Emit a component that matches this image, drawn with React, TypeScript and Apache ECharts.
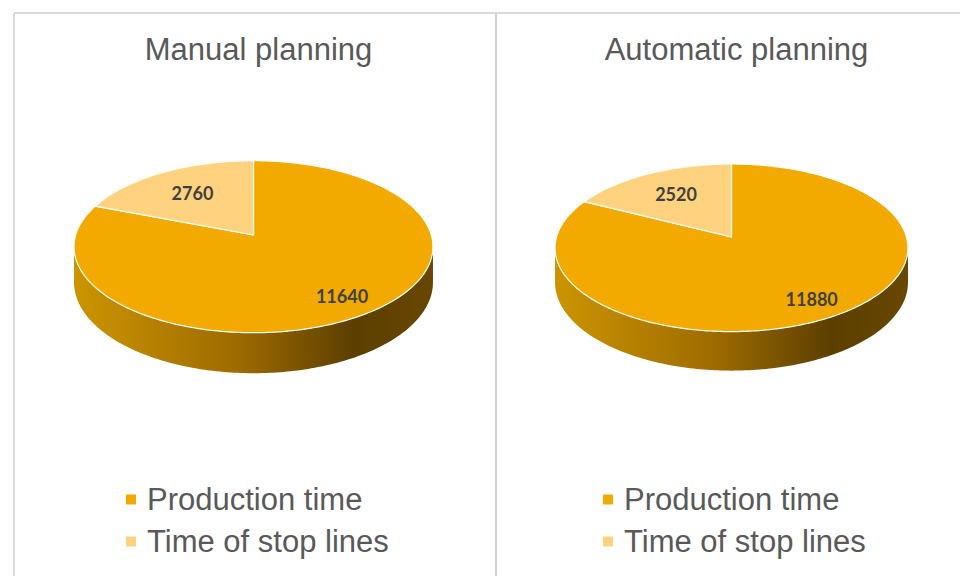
import React, { useEffect, useRef } from "react";
import * as echarts from "echarts";

// ---- data ----
const categories = ["Production time", "Time of stop lines"];
const pieTitles = ["Manual planning", "Automatic planning"];
const productionTime = [11640, 11880];
const stopTime = [2760, 2520];
const seriesValues = [productionTime, stopTime];

// ---- styling / layout ----
const topColors = ["#F2A900", "#FFD280"];
const sideStops = [
  [
    { offset: 0, color: "#CC9400" },
    { offset: 0.45, color: "#9E6C00" },
    { offset: 0.78, color: "#5C3F00" },
    { offset: 1, color: "#684700" },
  ],
  [
    { offset: 0, color: "#D9A84E" },
    { offset: 0.45, color: "#B8893A" },
    { offset: 0.8, color: "#8A6424" },
    { offset: 1, color: "#94702C" },
  ],
];
const labelRadius = [0.8, 0.65];

const pies = [
  { xc: 253.5, yc: 235, B: 177.8, A: 84.4, b: 0.136, H: 35, titleX: 253.5, legendX: 126 },
  { xc: 731.5, yc: 237, B: 175, A: 82.4, b: 0.129, H: 34, titleX: 731.5, legendX: 603 },
];

type Pie = (typeof pies)[number];

function proj(p: Pie, deg: number, f: number, depth: number): number[] {
  const a = (deg * Math.PI) / 180;
  const u = f * Math.sin(a);
  const v = -f * Math.cos(a);
  const k = 1 / (1 - p.b * v);
  return [p.xc + p.B * u * k, p.yc + p.A * v * k + depth * k];
}

function rim(p: Pie, from: number, to: number, depth: number): number[][] {
  const n = Math.max(2, Math.ceil(Math.abs(to - from)));
  const pts: number[][] = [];
  for (let j = 0; j <= n; j++) {
    pts.push(proj(p, from + ((to - from) * j) / n, 1, depth));
  }
  return pts;
}

function makeRenderItem(c: number) {
  return (params: any, api: any) => {
    const i = params.dataIndex;
    const p = pies[i];
    const value = api.value(0);
    let start = 0;
    let total = 0;
    seriesValues.forEach((arr, k) => {
      total += arr[i];
      if (k < c) start += arr[i];
    });
    const a0 = (start / total) * 360;
    const a1 = ((start + value) / total) * 360;
    const children: any[] = [];
    const fDeg = (Math.acos(-p.b) * 180) / Math.PI;
    const s = Math.max(a0, fDeg);
    const e = Math.min(a1, 360 - fDeg);
    if (e > s) {
      const pts = rim(p, s, e, 0).concat(rim(p, e, s, p.H));
      const xL = p.xc - p.B * 1.01;
      const xR = p.xc + p.B * 1.01;
      children.push({
        type: "polygon",
        shape: { points: pts },
        style: {
          fill: new echarts.graphic.LinearGradient(xL, 0, xR, 0, sideStops[c], true),
          stroke: null,
        },
      });
    }
    const top = [[p.xc, p.yc]].concat(rim(p, a0, a1, 0));
    children.push({
      type: "polygon",
      shape: { points: top },
      style: { fill: topColors[c], stroke: "#FFFFFF", lineWidth: 1.2, lineJoin: "round" },
    });
    const mid = (a0 + a1) / 2;
    const lp = proj(p, mid, labelRadius[c], 0);
    children.push({
      type: "text",
      style: {
        text: String(value),
        x: lp[0],
        y: lp[1],
        align: "center",
        verticalAlign: "middle",
        fill: "#404040",
        fontFamily: "Lato",
        fontWeight: "bold",
        fontSize: 18,
      },
    });
    return { type: "group", children };
  };
}

export default function App() {
  const ref = useRef<HTMLDivElement>(null);
  useEffect(() => {
    document.body.style.margin = "0";
    if (!ref.current) return;
    const chart = echarts.init(ref.current, undefined, { renderer: "svg" });
    const textStyle = { fontFamily: "Liberation Sans", fontSize: 31, color: "#595959", fontWeight: "normal" as const };
    chart.setOption({
      animation: false,
      backgroundColor: "#FFFFFF",
      title: pies.map((p, i) => ({
        text: pieTitles[i],
        left: p.titleX,
        top: 29,
        textAlign: "center",
        textStyle,
      })),
      legend: pies.map((p) => ({
        data: categories,
        orient: "vertical",
        left: p.legendX,
        top: 484,
        padding: 0,
        icon: "rect",
        itemWidth: 10,
        itemHeight: 10,
        itemGap: 11,
        selectedMode: false,
        textStyle: { ...textStyle, lineHeight: 31, padding: [0, 0, 0, 6] },
      })),
      graphic: [
        { type: "line", shape: { x1: 14, y1: 13, x2: 960, y2: 13 }, style: { stroke: "#D9D9D9", lineWidth: 2 } },
        { type: "line", shape: { x1: 14, y1: 13, x2: 14, y2: 576 }, style: { stroke: "#D9D9D9", lineWidth: 2 } },
        { type: "line", shape: { x1: 496, y1: 13, x2: 496, y2: 576 }, style: { stroke: "#D2D2D2", lineWidth: 2 } },
      ],
      series: categories.map((name, c) => ({
        type: "custom",
        name,
        coordinateSystem: "none",
        itemStyle: { color: topColors[c] },
        data: pies.map((_, i) => [seriesValues[c][i]]),
        renderItem: makeRenderItem(c),
      })),
    });
    return () => chart.dispose();
  }, []);
  return <div ref={ref} style={{ width: 960, height: 576 }} />;
}
